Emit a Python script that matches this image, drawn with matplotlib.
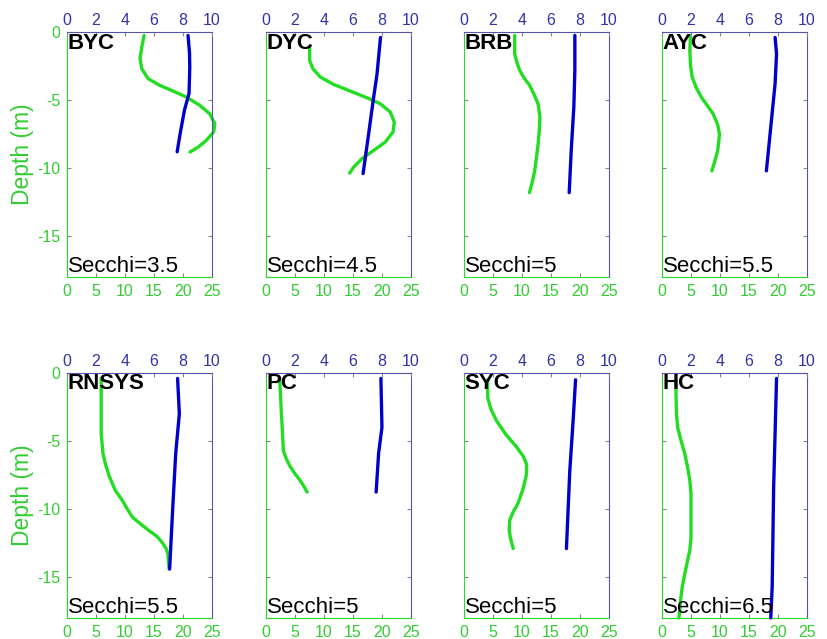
import matplotlib
import matplotlib.pyplot as plt

matplotlib.use('Agg')
plt.rcParams['font.family'] = ['Liberation Sans', 'DejaVu Sans']
plt.rcParams['axes.unicode_minus'] = False

# Site names and Secchi depths
sites = ['BYC', 'DYC', 'BRB', 'AYC', 'RNSYS', 'PC', 'SYC', 'HC']
secchi = ['3.5', '4.5', '5', '5.5', '5.5', '5', '5', '6.5']

# Green profiles (bottom axis, 0-25)
green_x = [
    [13.3, 12.9, 12.6, 12.9, 14.0, 16.0, 18.3, 20.6, 22.9, 24.6, 25.5,
     25.3, 24.0, 22.6, 21.2],
    [7.53, 7.53, 8.1, 9.37, 11.67, 14.54, 17.41, 19.71, 21.44, 22.13,
     21.9, 20.57, 18.56, 16.55, 15.11, 14.43],
    [8.75, 8.75, 9.1, 9.6, 10.4, 11.3, 12.1, 12.8, 13.1, 13.0, 12.8,
     12.5, 12.2, 11.8, 11.3],
    [4.9, 4.8, 4.9, 5.2, 5.9, 6.8, 7.8, 8.8, 9.6, 9.9, 9.8, 9.6, 9.1, 8.6],
    [5.9, 5.9, 5.9, 6.2, 6.7, 7.3, 8.3, 9.6, 10.4, 11.3, 12.7, 14.2, 15.5,
     16.5, 17.1, 17.4, 17.6],
    [2.35, 2.5, 2.6, 2.8, 3.0, 3.5, 4.2, 5.0, 5.9, 6.5, 7.1],
    [4.1, 4.1, 4.6, 5.6, 7.2, 9.0, 10.2, 10.8, 10.8, 10.2, 9.3, 8.5, 7.9,
     7.8, 8.0, 8.5],
    [2.4, 2.4, 2.5, 2.7, 3.3, 3.9, 4.4, 4.8, 5.0, 5.0, 5.0, 4.8, 4.4, 3.9,
     3.5, 3.2, 3.0, 2.9],
]
green_z = [
    [-0.25, -1.1, -1.96, -2.7, -3.43, -3.92, -4.34, -4.78, -5.39, -6.0,
     -6.74, -7.35, -7.97, -8.46, -8.82],
    [-1.1, -2.08, -2.7, -3.31, -3.85, -4.34, -4.83, -5.27, -5.88, -6.62,
     -7.35, -8.09, -8.7, -9.31, -9.93, -10.37],
    [-0.25, -1.6, -2.2, -2.8, -3.4, -3.9, -4.6, -5.3, -6.25, -7.2, -8.2,
     -9.2, -10.2, -11.0, -11.8],
    [-0.25, -1.35, -2.4, -3.3, -4.1, -4.8, -5.4, -6.0, -6.8, -7.5, -8.0,
     -8.7, -9.5, -10.2],
    [-0.4, -2.5, -4.4, -5.9, -6.8, -7.6, -8.6, -9.4, -10.0, -10.6, -11.1,
     -11.6, -12.0, -12.5, -12.9, -13.3, -14.4],
    [-0.4, -1.5, -2.5, -4.0, -5.7, -6.3, -6.9, -7.4, -7.9, -8.3, -8.75],
    [-0.5, -1.8, -2.6, -3.5, -4.5, -5.4, -6.1, -6.7, -7.4, -8.5, -9.6,
     -10.2, -10.8, -11.5, -12.1, -12.9],
    [-0.5, -1.3, -3.0, -4.0, -5.0, -5.9, -6.9, -7.9, -8.9, -10.5, -12.1,
     -13.0, -13.8, -14.8, -15.7, -16.7, -17.7, -18.0],
]

# Blue profiles (top axis, 0-10)
blue_x = [
    [8.35, 8.45, 8.47, 8.42, 8.1, 7.8, 7.6],
    [7.9, 7.66, 7.4, 7.08, 6.7],
    [7.65, 7.65, 7.58, 7.4, 7.26],
    [7.8, 7.9, 7.8, 7.5, 7.2],
    [7.63, 7.75, 7.5, 7.3, 7.08],
    [7.93, 8.0, 7.77, 7.6],
    [7.7, 7.53, 7.3, 7.07],
    [7.9, 7.7, 7.6, 7.5],
]
blue_z = [
    [-0.25, -1.5, -2.6, -4.5, -5.75, -7.5, -8.8],
    [-0.4, -3.1, -5.0, -7.5, -10.4],
    [-0.25, -2.8, -5.5, -8.7, -11.8],
    [-0.4, -1.6, -3.8, -7.0, -10.2],
    [-0.4, -3.0, -5.9, -9.8, -14.4],
    [-0.4, -4.0, -5.9, -8.75],
    [-0.5, -3.5, -7.2, -12.9],
    [-0.4, -8.4, -15.7, -18.0],
]

green_ticks = [0, 5, 10, 15, 20, 25]
blue_ticks = [0, 2, 4, 6, 8, 10]
depth_ticks = [0, -5, -10, -15]

c_green = '#22dd22'
c_green_txt = '#33cc33'
c_blue = '#0000cc'
c_blue_txt = '#3333aa'
c_blue_spine = '#5555aa'

fig = plt.figure(figsize=(8.27, 6.39), dpi=100)

lefts = [0.081, 0.3216, 0.561, 0.8005]
bottoms = [0.5665, 0.0329]
w, h = 0.1753, 0.3834

for i, site in enumerate(sites):
    row, col = divmod(i, 4)
    ax = fig.add_axes([lefts[col], bottoms[row], w, h])
    ax.plot(green_x[i], green_z[i], color=c_green, lw=2.4,
            clip_on=False, solid_capstyle='round',
            solid_joinstyle='round')
    ax.set_xlim(0, 25)
    ax.set_ylim(-18, 0)
    ax.set_xticks(green_ticks)
    ax.set_yticks(depth_ticks)
    ax.tick_params(axis='x', direction='in', colors=c_green_txt,
                   labelsize=11.5, length=3, pad=5)
    ax.tick_params(axis='y', direction='in', length=3, right=True,
                   colors=c_green_txt, labelsize=11.5, pad=5)
    ax.tick_params(axis='both', color='#888888')
    if col != 0:
        ax.set_yticklabels([])
    else:
        ax.set_ylabel('Depth (m)', color=c_green_txt, fontsize=16.5,
                      labelpad=2)
    ax.spines['left'].set_color(c_green)
    ax.spines['bottom'].set_color(c_green)
    ax.spines['right'].set_color(c_blue_spine)
    ax.spines['top'].set_visible(False)

    ax2 = ax.twiny()
    ax2.plot(blue_x[i], blue_z[i], color=c_blue, lw=2.4,
             clip_on=False, solid_capstyle='round',
             solid_joinstyle='round')
    ax2.set_xlim(0, 10)
    ax2.set_xticks(blue_ticks)
    ax2.tick_params(axis='x', direction='in', colors=c_blue_txt,
                    labelsize=11.5, length=3, pad=3)
    ax2.tick_params(axis='x', color='#888888')
    for s in ['left', 'bottom', 'right']:
        ax2.spines[s].set_visible(False)
    ax2.spines['top'].set_color(c_blue_spine)

    ax2.text(0.005, 0.998, site, transform=ax.transAxes, fontsize=16,
             fontweight='bold', color='black', va='top', ha='left')
    ax2.text(0.005, 0.0, f'Secchi={secchi[i]}', transform=ax.transAxes,
             fontsize=16, color='black', va='bottom', ha='left')

fig.savefig('out.png', dpi=100)
